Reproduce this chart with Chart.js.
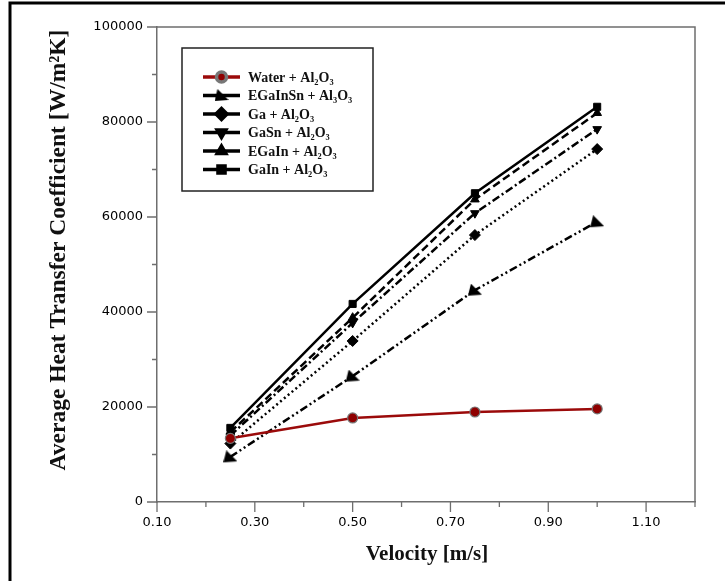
<!DOCTYPE html>
<html>
<head>
<meta charset="utf-8">
<script src="https://cdn.jsdelivr.net/npm/chart.js@4"></script>
<style>
  html, body { margin: 0; padding: 0; background: #fff; }
  #wrap { width: 725px; height: 581px; position: relative; }
</style>
</head>
<body>
<div id="wrap"><canvas id="chart" width="725" height="581"></canvas></div>
<script>
// Data
const velocity = [0.25, 0.50, 0.75, 1.00];
const water    = [13400, 17700, 18950, 19600];
const eGaInSn  = [9500, 26500, 44600, 59000];
const ga       = [12300, 33900, 56200, 74300];
const gaSn     = [14000, 37700, 60800, 78500];
const eGaIn    = [14700, 38800, 63700, 81900];
const gaIn     = [15600, 41700, 65000, 83200];

const seriesNames = [
    'Water + Al₂O₃',
    'EGaInSn + Al₃O₃',
    'Ga + Al₂O₃',
    'GaSn + Al₂O₃',
    'EGaIn + Al₂O₃',
    'GaIn + Al₂O₃'
];

const xTitle = 'Velocity [m/s]';
const yTitle = 'Average Heat Transfer Coefficient [W/m²K]';

const AXIS_GRAY = '#6e6e6e';
const TICK_FONT = { family: 'DejaVu Sans', size: 13 };

// odd slanted triangle marker used for EGaInSn
function makeSlantMarker() {
    const c = document.createElement('canvas');
    c.width = 14; c.height = 13;
    const g = c.getContext('2d');
    g.fillStyle = '#000';
    g.beginPath();
    g.moveTo(3, 0);
    g.lineTo(14, 11);
    g.lineTo(0, 12);
    g.closePath();
    g.fill();
    return c;
}
const slantMarker = makeSlantMarker();

const toPts = vals => vals.map((v, i) => ({ x: velocity[i], y: v }));

function blackSeries(label, vals, dash, style, rotation, radius) {
    return {
        label: label,
        data: toPts(vals),
        borderColor: '#000',
        backgroundColor: '#000',
        borderWidth: 2.5,
        borderDash: dash,
        pointStyle: style,
        rotation: rotation || 0,
        pointRadius: radius || 5,
        pointBorderWidth: 1,
        pointBorderColor: '#000',
        pointBackgroundColor: '#000'
    };
}

const datasets = [
    {
        label: seriesNames[0],
        data: toPts(water),
        borderColor: '#9b0a0a',
        backgroundColor: '#9b0a0a',
        borderWidth: 2.5,
        pointStyle: 'circle',
        pointRadius: 5,
        pointBorderWidth: 1.2,
        pointBorderColor: '#777',
        pointBackgroundColor: '#8f0000'
    },
    blackSeries(seriesNames[1], eGaInSn, [8, 3, 2, 3, 2, 3], slantMarker),
    blackSeries(seriesNames[2], ga, [2, 3], 'rectRot', 0, 5.5),
    blackSeries(seriesNames[3], gaSn, [8, 3, 2, 3], 'triangle', 180, 5),
    blackSeries(seriesNames[4], eGaIn, [8, 4], 'triangle', 0, 5),
    blackSeries(seriesNames[5], gaIn, [], 'rect', 0, 5)
];

// frame, minor/major ticks, titles and legend
const decorPlugin = {
    id: 'decor',
    afterDraw(chart) {
        const ctx = chart.ctx;
        const area = chart.chartArea;
        const xs = chart.scales.x, ys = chart.scales.y;
        ctx.save();

        // outer black page border (left + top)
        ctx.strokeStyle = '#000';
        ctx.lineWidth = 3;
        ctx.beginPath();
        ctx.moveTo(10, 581);
        ctx.lineTo(10, 3);
        ctx.lineTo(725, 3);
        ctx.stroke();

        // plot frame top + right
        ctx.strokeStyle = AXIS_GRAY;
        ctx.lineWidth = 1.5;
        ctx.beginPath();
        ctx.moveTo(area.left, area.top);
        ctx.lineTo(area.right, area.top);
        ctx.lineTo(area.right, area.bottom);
        ctx.stroke();

        // ticks
        ctx.lineWidth = 1.3;
        ctx.beginPath();
        xs.ticks.forEach((t, i) => {
            const px = xs.getPixelForValue(t.value);
            const len = i % 2 === 0 ? 10 : 5;
            ctx.moveTo(px, area.bottom);
            ctx.lineTo(px, area.bottom + len);
        });
        ys.ticks.forEach((t, i) => {
            const py = ys.getPixelForValue(t.value);
            const len = i % 2 === 0 ? 10 : 5;
            ctx.moveTo(area.left, py);
            ctx.lineTo(area.left - len, py);
        });
        ctx.stroke();

        // axis titles
        ctx.fillStyle = '#111';
        ctx.textAlign = 'center';
        ctx.textBaseline = 'middle';
        ctx.font = 'bold 21px "Liberation Serif"';
        ctx.fillText(xTitle, 427, 555);

        ctx.save();
        ctx.translate(59, 250);
        ctx.rotate(-Math.PI / 2);
        ctx.font = 'bold 23.5px "Liberation Serif"';
        ctx.fillText(yTitle, 0, 0);
        ctx.restore();

        // legend
        ctx.strokeStyle = '#222';
        ctx.lineWidth = 1.5;
        ctx.strokeRect(182, 48, 191, 143);

        const rowY0 = 77, rowStep = 18.5;
        chart.data.datasets.forEach((ds, i) => {
            const y = rowY0 + i * rowStep;
            ctx.strokeStyle = ds.borderColor;
            ctx.lineWidth = 3.5;
            ctx.setLineDash([]);
            ctx.beginPath();
            ctx.moveTo(203, y);
            ctx.lineTo(240, y);
            ctx.stroke();

            ctx.fillStyle = ds.pointBackgroundColor;
            ctx.strokeStyle = ds.pointBorderColor;
            Chart.helpers.drawPoint(ctx, {
                pointStyle: ds.pointStyle,
                rotation: ds.rotation || 0,
                radius: ds.pointRadius,
                borderWidth: ds.pointBorderWidth
            }, 221.5, y);

            ctx.fillStyle = '#111';
            ctx.textAlign = 'left';
            ctx.textBaseline = 'middle';
            ctx.font = 'bold 14px "Liberation Serif"';
            ctx.fillText(ds.label, 248, y + 1);
        });

        ctx.restore();
    }
};

new Chart(document.getElementById('chart'), {
    type: 'line',
    data: { datasets: datasets },
    options: {
        responsive: false,
        animation: false,
        layout: { padding: { left: 0, top: 27, right: 30, bottom: 0 } },
        plugins: {
            legend: { display: false },
            tooltip: { enabled: false }
        },
        scales: {
            x: {
                type: 'linear',
                min: 0.1,
                max: 1.2,
                afterFit: s => { s.height = 79; },
                ticks: {
                    stepSize: 0.1,
                    autoSkip: false,
                    maxRotation: 0,
                    padding: 3,
                    color: '#000',
                    font: TICK_FONT,
                    callback: (v, i) => (i % 2 === 0 && v < 1.15) ? v.toFixed(2) : ''
                },
                grid: {
                    drawOnChartArea: false,
                    tickLength: 10,
                    tickColor: 'rgba(0,0,0,0)'
                },
                border: { color: AXIS_GRAY, width: 1.5 }
            },
            y: {
                min: 0,
                max: 100000,
                afterFit: s => { s.width = 157; },
                ticks: {
                    stepSize: 10000,
                    autoSkip: false,
                    padding: 4,
                    color: '#000',
                    font: TICK_FONT,
                    callback: (v, i) => i % 2 === 0 ? String(v) : ''
                },
                grid: {
                    drawOnChartArea: false,
                    tickLength: 10,
                    tickColor: 'rgba(0,0,0,0)'
                },
                border: { color: AXIS_GRAY, width: 1.5 }
            }
        }
    },
    plugins: [decorPlugin]
});
</script>
</body>
</html>
